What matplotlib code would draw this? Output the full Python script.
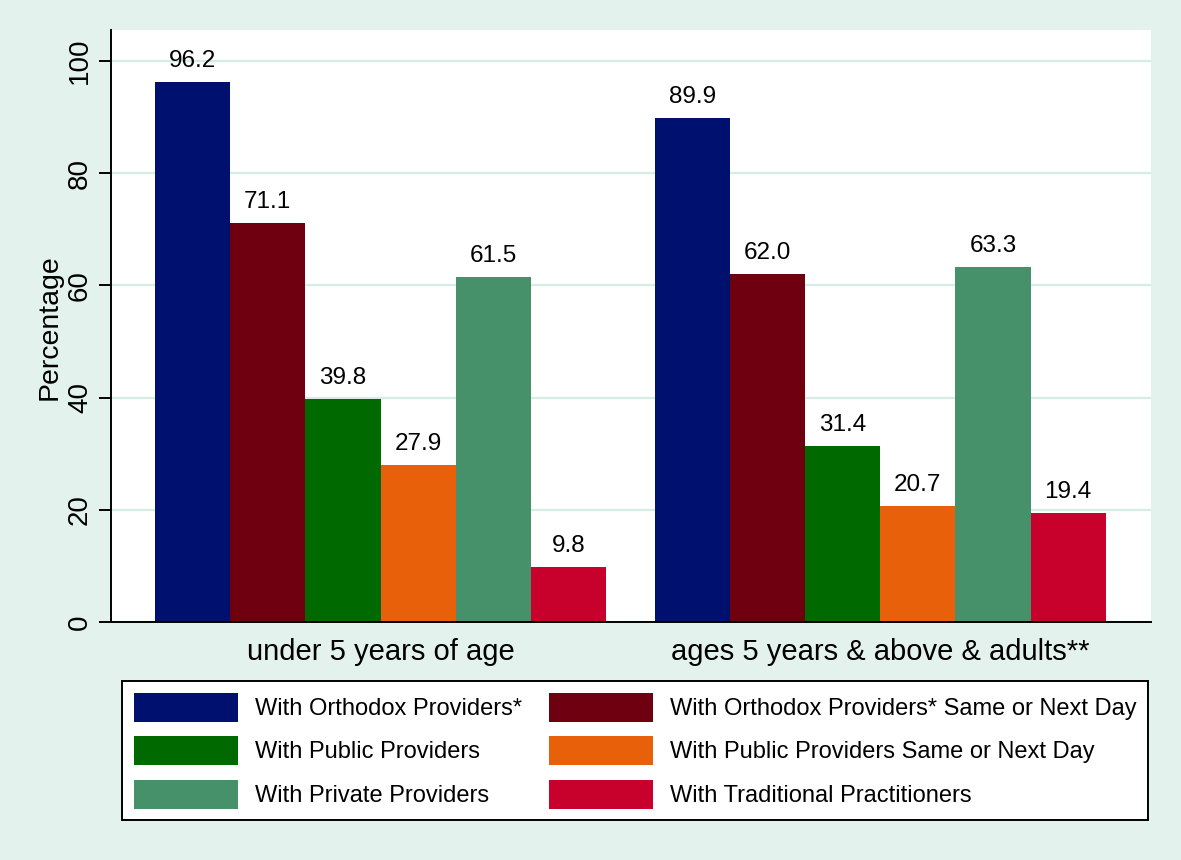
import numpy as np
import matplotlib
matplotlib.use("Agg")
import matplotlib.pyplot as plt

plt.rcParams['font.family'] = ['Liberation Sans', 'DejaVu Sans']

groups = ["under 5 years of age", "ages 5 years & above & adults**"]
series = [
    "With Orthodox Providers*",
    "With Orthodox Providers* Same or Next Day",
    "With Public Providers",
    "With Public Providers Same or Next Day",
    "With Private Providers",
    "With Traditional Practitioners",
]
under5 = [96.2, 71.1, 39.8, 27.9, 61.5, 9.8]
over5 = [89.9, 62.0, 31.4, 20.7, 63.3, 19.4]
colors = ["#00106E", "#6E0010", "#006A00", "#E8600A", "#46916A", "#C8002C"]
yticks = [0, 20, 40, 60, 80, 100]

bg = "#E4F2EE"
fig = plt.figure(figsize=(11.81, 8.6), dpi=100, facecolor=bg)
ax = fig.add_axes([111/1181, 1-622/860, 1040/1181, 592/860])
ax.set_facecolor("white")

values = np.array([under5, over5])
centers = np.array([0.0, 6.645])
nser = len(series)
offs = np.arange(nser) - (nser - 1) / 2

handles = []
for i in range(nser):
    b = ax.bar(centers + offs[i], values[:, i], width=1.0, color=colors[i],
               linewidth=0, label=series[i], zorder=2)
    handles.append(b)
    for rect, v in zip(b, values[:, i]):
        ax.annotate('{0:0.1f}'.format(v), (rect.get_x() + rect.get_width() / 2, v),
                    xytext=(0, 10.8), textcoords='offset points',
                    ha='center', va='baseline', fontsize=17.5)

ax.set_xlim(-3.584, 10.246)
ax.set_ylim(0, 105.5)
ax.set_yticks(yticks)
ax.set_yticklabels([str(t) for t in yticks])
ax.set_xticks(centers)
ax.set_xticklabels(groups)
ax.tick_params(axis='x', length=0, pad=11.5, labelsize=21)
ax.tick_params(axis='y', length=9, width=1.4, pad=4, labelsize=20)
plt.setp(ax.get_yticklabels(), rotation=90, va='center')
ax.grid(axis='y', color="#D6ECE6", linewidth=1.6)
ax.set_axisbelow(True)
for s in ['top', 'right']:
    ax.spines[s].set_visible(False)
ax.spines['left'].set_linewidth(1.4)
ax.spines['bottom'].set_linewidth(1.4)

fig.text(50/1181, 1-327/860, "Percentage", rotation=90, ha='center', va='center', fontsize=20.5)

order = [0, 2, 4, 1, 3, 5]
leg = fig.legend([handles[k] for k in order], [series[k] for k in order],
                 loc='upper left', bbox_to_anchor=(122/1181, 1-681/860), ncol=2,
                 fontsize=17, frameon=True, fancybox=False, framealpha=1,
                 edgecolor='black', facecolor='white',
                 handlelength=4.4, handleheight=1.5, handletextpad=0.72,
                 borderpad=0.5, labelspacing=0.62, columnspacing=1.15,
                 borderaxespad=0)
leg.get_frame().set_linewidth(1.4)

fig.savefig("out.png", dpi=100, facecolor=bg)
